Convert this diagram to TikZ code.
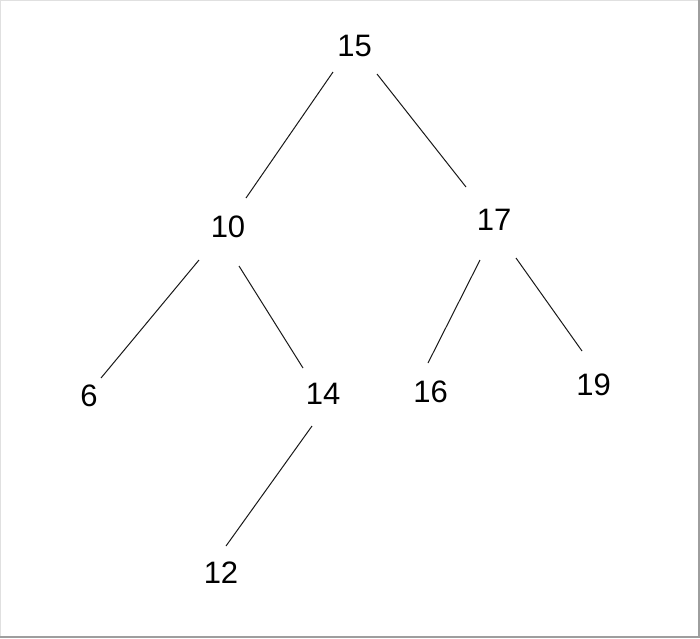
\documentclass[tikz,border=0pt]{standalone}
\usepackage{fontspec}
\setmainfont{Liberation Sans}
\begin{document}
\begin{tikzpicture}[x=1pt,y=-1pt,
  num/.style={inner sep=0pt,font=\fontsize{31}{31}\selectfont},
  edge/.style={draw=black!90,line width=1pt}]
\useasboundingbox (0,0) rectangle (700,638);
\fill[white] (0,0) rectangle (700,638);
% frame
\draw[black!12,line width=1.2pt] (0.6,638) -- (0.6,0.6) -- (700,0.6);
\draw[black!38,line width=2pt] (0,637) -- (699,637) -- (699,0);
% nodes
\node[num] (n15) at (354.5,46) {15};
\node[num] (n10) at (228,226.5) {10};
\node[num] (n17) at (494,219.5) {17};
\node[num] (n6) at (89,395.5) {6};
\node[num] (n14) at (323,394) {14};
\node[num] (n16) at (430.5,391.5) {16};
\node[num] (n19) at (593.5,384.5) {19};
\node[num] (n12) at (221,573) {12};
% connector end points
\coordinate (a1) at (333,72);  \coordinate (b1) at (246,198);
\coordinate (a2) at (377,74);  \coordinate (b2) at (466,187);
\coordinate (a3) at (199,260); \coordinate (b3) at (101,378);
\coordinate (a4) at (239,266); \coordinate (b4) at (303,368);
\coordinate (a5) at (480,260); \coordinate (b5) at (428,363);
\coordinate (a6) at (516,258); \coordinate (b6) at (582,351);
\coordinate (a7) at (312,426); \coordinate (b7) at (226,546);
\draw[edge] (a1) -- (b1);
\draw[edge] (a2) -- (b2);
\draw[edge] (a3) -- (b3);
\draw[edge] (a4) -- (b4);
\draw[edge] (a5) -- (b5);
\draw[edge] (a6) -- (b6);
\draw[edge] (a7) -- (b7);
\end{tikzpicture}
\end{document}
